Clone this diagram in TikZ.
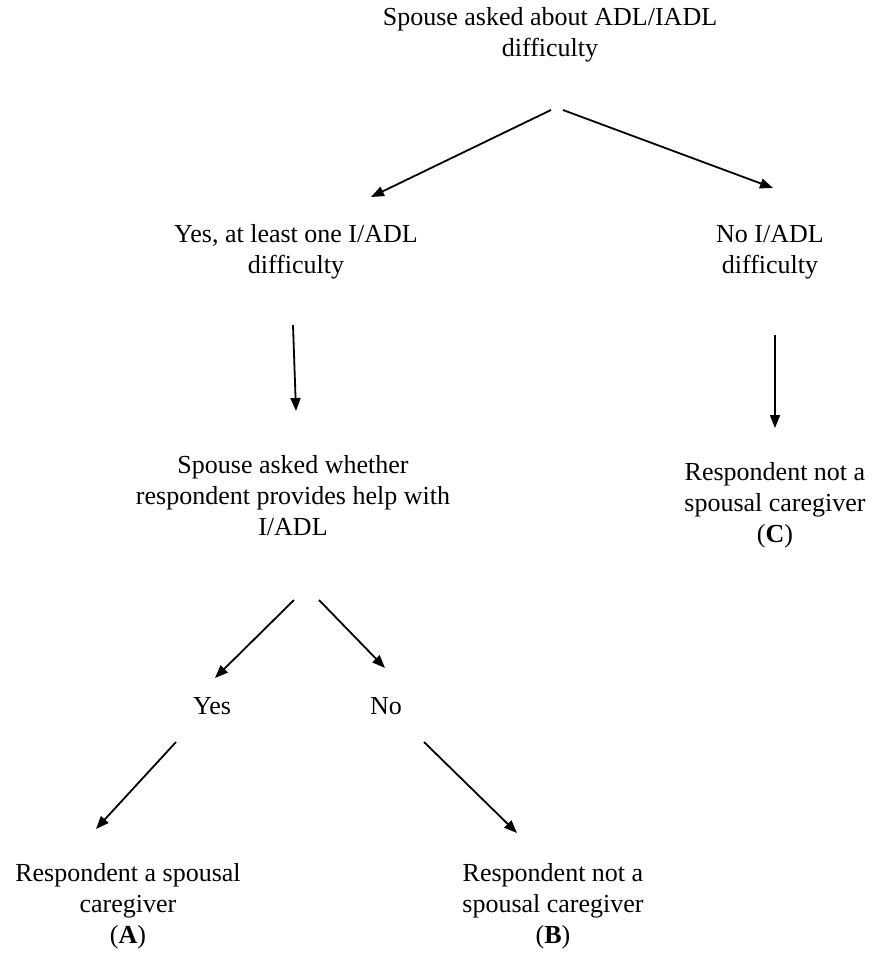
\documentclass[tikz,border=0pt]{standalone}
\usepackage{fontspec}
\setmainfont{Liberation Serif}
\usetikzlibrary{arrows.meta,calc}
\begin{document}
\begin{tikzpicture}[x=0.5pt,y=-0.5pt,
  lbl/.style={align=center,inner sep=0pt,font=\fontsize{13}{15.5}\selectfont},
  arr/.style={-{Triangle[length=6.5pt,width=5pt]},line width=0.9pt}]
\useasboundingbox (0,0) rectangle (873,954);
\node[lbl] (ask) at (550,35) {Spouse asked about ADL/IADL\\difficulty};
\node[lbl] (yesdiff) at (296,252) {Yes, at least one I/ADL\\difficulty};
\node[lbl] (nodiff) at (770,252) {No I/ADL\\difficulty};
\node[lbl] (askhelp) at (293,496) {Spouse asked whether\\respondent provides help with\\I/ADL};
\node[lbl] (notC) at (775,505) {Respondent not a\\spousal caregiver\\(\textbf{C})};
\node[lbl] (yes) at (212,706) {Yes};
\node[lbl] (no) at (386,706) {No};
\node[lbl] (isA) at (128,906) {Respondent a spousal\\caregiver\\(\textbf{A})};
\node[lbl] (notB) at (553,906) {Respondent not a\\spousal caregiver\\(\textbf{B})};
\draw[arr] ($(ask)+(1,75)$) -- ($(yesdiff)+(75,-55)$);
\draw[arr] ($(ask)+(13,75)$) -- ($(nodiff)+(3,-64)$);
\draw[arr] ($(yesdiff)+(-3,73)$) -- ($(askhelp)+(3,-85)$);
\draw[arr] ($(nodiff)+(5,83)$) -- ($(notC)+(0,-77)$);
\draw[arr] ($(askhelp)+(1,104)$) -- ($(yes)+(3,-28)$);
\draw[arr] ($(askhelp)+(26,104)$) -- ($(no)+(-1,-38)$);
\draw[arr] ($(yes)+(-36,36)$) -- ($(isA)+(-32,-77)$);
\draw[arr] ($(no)+(38,36)$) -- ($(notB)+(-36,-73)$);
\end{tikzpicture}
\end{document}
